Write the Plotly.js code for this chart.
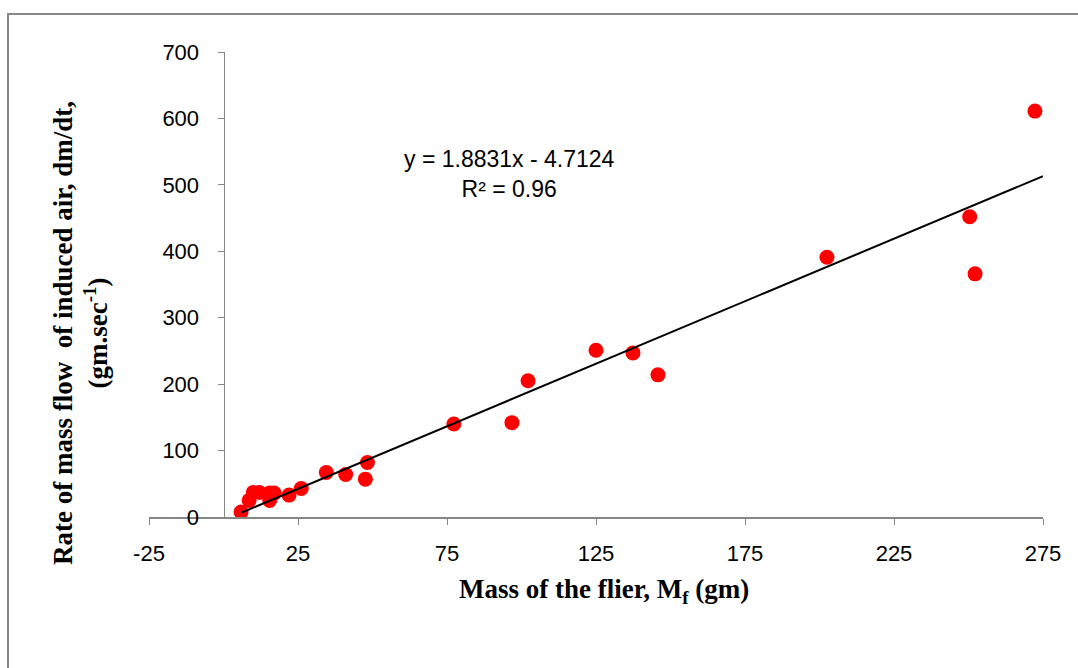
<!DOCTYPE html>
<html>
<head>
<meta charset="utf-8">
<script src="https://cdn.plot.ly/plotly-3.0.1.min.js"></script>
<style>html,body{margin:0;padding:0;background:#fff;}#chart{width:1078px;height:668px;}</style>
</head>
<body>
<div id="chart"></div>
<script>
// Data
const massFlier = [5.9, 8.6, 10.0, 12.0, 15.5, 15.5, 17.0, 22.0, 26.1, 34.5, 41.0, 47.6, 48.3, 77.3, 96.8, 102.2, 125.0, 137.4, 145.8, 202.5, 250.4, 252.2, 272.3];
const massFlow   = [7.5, 25, 37, 37, 36, 25, 36, 33, 43, 67, 64, 57, 82, 140, 142, 205, 251, 247, 214, 391, 452, 366, 611];
const slope = 1.8831, intercept = -4.7124;
const trendX = [Math.min(...massFlier), 275];
const trendY = trendX.map(x => slope * x + intercept);
const xTicks = [-25, 25, 75, 125, 175, 225, 275];
const yTicks = [0, 100, 200, 300, 400, 500, 600, 700];
const xRange = [-25, 275];
const yRange = [0, 700];

const data = [
  {x: massFlier, y: massFlow, type: 'scatter', mode: 'markers',
   marker: {color: '#ff0000', size: 15}, hoverinfo: 'x+y'},
  {x: trendX, y: trendY, type: 'scatter', mode: 'lines',
   line: {color: '#000000', width: 2}}
];

const sans = 'Liberation Sans, Arial, sans-serif';
const serif = 'Liberation Serif, Times New Roman, serif';

// vertical axis crosses the horizontal axis at x = 0 (Excel default)
const yAxisPos = (0 - xRange[0]) / (xRange[1] - xRange[0]);

const layout = {
  width: 1078, height: 668,
  margin: {l: 149, r: 35, t: 52, b: 151},
  showlegend: false,
  paper_bgcolor: '#ffffff', plot_bgcolor: '#ffffff',
  font: {family: sans, size: 22, color: '#000'},
  xaxis: {range: xRange, tickvals: xTicks, ticktext: xTicks.map(String),
          tickfont: {family: sans, size: 22, color: '#000'},
          showgrid: false, zeroline: false, showline: true, linecolor: '#868686', linewidth: 1.5,
          ticks: 'outside', ticklen: 6, tickcolor: '#868686', ticklabelstandoff: 10},
  yaxis: {range: yRange, tickvals: yTicks, ticktext: yTicks.map(String),
          anchor: 'free', position: yAxisPos,
          tickfont: {family: sans, size: 22, color: '#000'},
          showgrid: false, zeroline: false, showline: true, linecolor: '#868686', linewidth: 1.5,
          ticks: 'outside', ticklen: 6, tickcolor: '#868686', ticklabelstandoff: 14},
  annotations: [
    {x: 96.1, y: 516, xref: 'x', yref: 'y', xanchor: 'center', yanchor: 'middle',
     text: 'y = 1.8831x - 4.7124<br>R² = 0.96',
     showarrow: false, font: {size: 23, family: sans, color: '#000'}, align: 'center'},
    {x: (604-149)/894, y: (517-591)/465, xref: 'paper', yref: 'paper', xanchor: 'center', yanchor: 'middle',
     text: '<b>Mass of the flier, M<sub>f</sub> (gm)</b>', showarrow: false,
     font: {size: 27, family: serif, color: '#000'}},
    {x: (80-149)/894, y: (517-333)/465, xref: 'paper', yref: 'paper', xanchor: 'center', yanchor: 'middle',
     textangle: -90,
     text: '<b>Rate of mass flow  of induced air, dm/dt,<br>(gm.sec<sup>-1</sup>)</b>', showarrow: false,
     font: {size: 27, family: serif, color: '#000'}, align: 'center'}
  ],
  shapes: [
    {type: 'rect', xref: 'paper', yref: 'paper', x0: (8-149)/894, x1: 1.3, y0: -0.6, y1: (517-14)/465,
     line: {color: '#888888', width: 2}, fillcolor: 'rgba(0,0,0,0)', layer: 'below'}
  ]
};

Plotly.newPlot('chart', data, layout, {staticPlot: true, displayModeBar: false});
</script>
</body>
</html>
